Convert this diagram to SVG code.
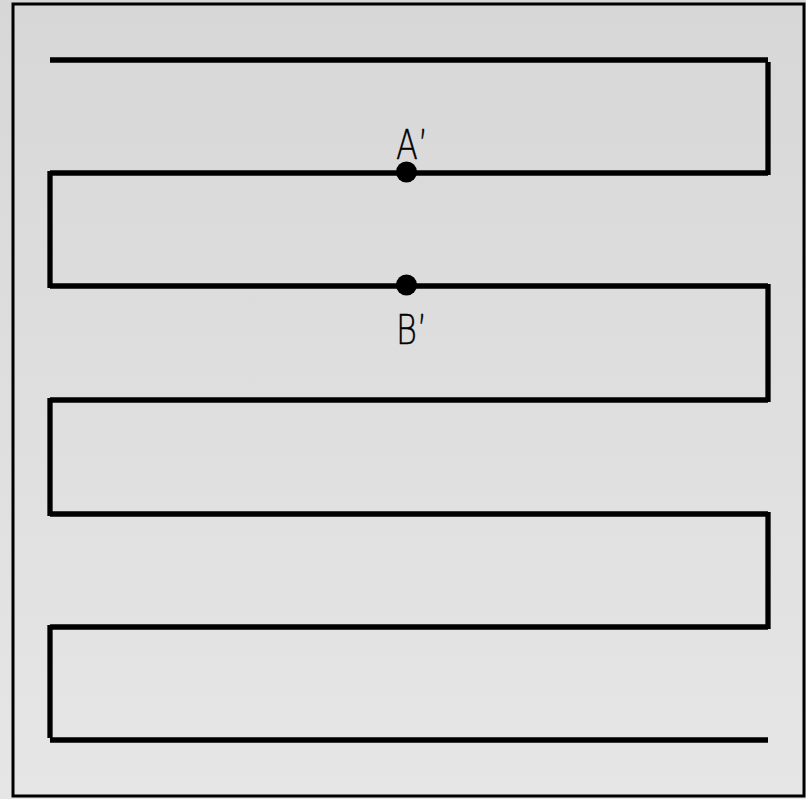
<svg xmlns="http://www.w3.org/2000/svg" width="806" height="799" viewBox="0 0 806 799">
  <defs>
    <linearGradient id="bg" x1="0" y1="0" x2="0" y2="1">
      <stop offset="0" stop-color="#d7d7d7"/>
      <stop offset="1" stop-color="#e6e6e6"/>
    </linearGradient>
  </defs>
  <style>
    .wire { stroke: #000; stroke-width: 5.3; fill: none; stroke-linecap: butt; }
    .dot { fill: #000; }
    .lbl { font-family: "DejaVu Sans", sans-serif; font-weight: 200; font-size: 40px; fill: #000; stroke: #000; stroke-width: 0.4; }
  </style>
  <rect x="0" y="0" width="806" height="799" fill="url(#bg)"/>
  <rect id="frame" x="13" y="4" width="791" height="792" fill="url(#bg)" stroke="#000" stroke-width="3"/>
  <g id="connectors">
    <line class="wire" x1="50" y1="60" x2="768" y2="60"/>
    <line class="wire" x1="768" y1="62" x2="768" y2="175"/>
    <line class="wire" x1="768" y1="173" x2="50" y2="173"/>
    <line class="wire" x1="50" y1="171" x2="50" y2="288"/>
    <line class="wire" x1="50" y1="286" x2="768" y2="286"/>
    <line class="wire" x1="768" y1="284" x2="768" y2="402"/>
    <line class="wire" x1="768" y1="400" x2="50" y2="400"/>
    <line class="wire" x1="50" y1="398" x2="50" y2="516"/>
    <line class="wire" x1="50" y1="514" x2="768" y2="514"/>
    <line class="wire" x1="768" y1="512" x2="768" y2="629"/>
    <line class="wire" x1="768" y1="627" x2="50" y2="627"/>
    <line class="wire" x1="50" y1="625" x2="50" y2="738"/>
    <line class="wire" x1="50" y1="740" x2="768" y2="740"/>
  </g>
  <g id="nodeA">
    <circle class="dot" cx="406.5" cy="172" r="10.5"/>
    <text class="lbl" transform="translate(396,159) scale(0.8,1)" x="0" y="0">A’</text>
  </g>
  <g id="nodeB">
    <circle class="dot" cx="406.5" cy="285" r="10.5"/>
    <text class="lbl" transform="translate(396,344) scale(0.8,1)" x="0" y="0">B’</text>
  </g>
</svg>
